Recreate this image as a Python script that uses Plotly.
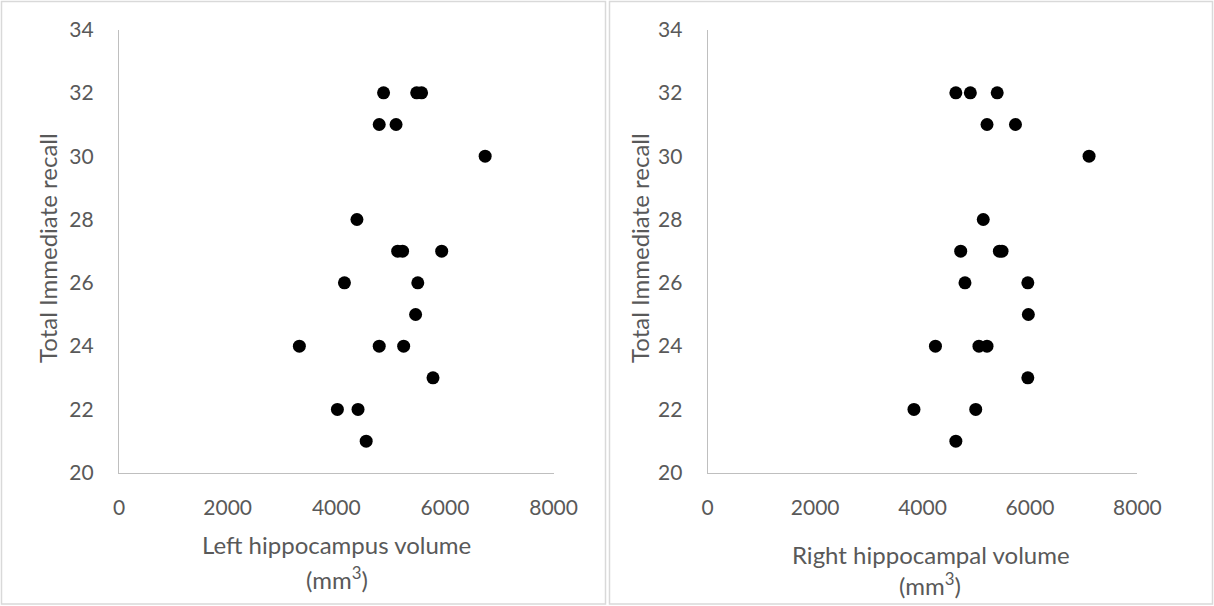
import plotly.graph_objects as go

# ---- data ----
recall = [32, 32, 32, 31, 31, 30, 28, 27, 27, 27, 26, 26, 25, 24, 24, 24, 23, 22, 22, 21]
left_volume = [4870, 5480, 5570, 4790, 5100, 6740, 4380, 5130, 5220, 5940,
               4150, 5500, 5460, 3320, 4790, 5240, 5780, 4020, 4400, 4550]
right_volume = [4620, 4890, 5390, 5200, 5730, 7100, 5130, 4710, 5430, 5480,
                4790, 5960, 5970, 4240, 5050, 5200, 5960, 3840, 4990, 4620]
x_ticks = [0, 2000, 4000, 6000, 8000]
y_ticks = [20, 22, 24, 26, 28, 30, 32, 34]
y_title = "Total Immediate recall"
left_title = "Left hippocampus volume"
right_title = "Right hippocampal volume"
unit_title = "(mm<sup>3</sup>)"

W, H = 1214, 606
FONT = "Lato"
GREY = "#595959"
AXIS = "#bfbfbf"
BORDER = "#d9d9d9"

fig = go.Figure()
fig.add_trace(go.Scatter(x=left_volume, y=recall, mode="markers", xaxis="x", yaxis="y",
                         marker=dict(color="black", size=13), showlegend=False,
                         cliponaxis=False))
fig.add_trace(go.Scatter(x=right_volume, y=recall, mode="markers", xaxis="x2", yaxis="y2",
                         marker=dict(color="black", size=13), showlegend=False,
                         cliponaxis=False))

ydom = [(H - 472.8) / H, (H - 29.5) / H]
xd1 = [119 / W, 553.6 / W]
xd2 = [707.7 / W, 1137.4 / W]

def xaxis(dom, anchor):
    return dict(domain=dom, anchor=anchor, range=[0, 8000], tickvals=x_ticks,
                showgrid=False, zeroline=False, showline=True, linecolor=AXIS, linewidth=1.3,
                ticks="", ticklabelstandoff=16, automargin=False,
                tickfont=dict(family=FONT, size=21, color=GREY), fixedrange=True)

def yaxis(anchor):
    return dict(domain=ydom, anchor=anchor, range=[20, 34], tickvals=y_ticks,
                showgrid=False, zeroline=False, showline=True, linecolor=AXIS, linewidth=1.3,
                ticks="", ticklabelstandoff=20, automargin=False,
                tickfont=dict(family=FONT, size=21, color=GREY), fixedrange=True)

fig.update_layout(
    template="none",
    width=W, height=H, autosize=False,
    margin=dict(l=0, r=0, t=0, b=0, pad=0, autoexpand=False),
    paper_bgcolor="white", plot_bgcolor="white", showlegend=False,
    xaxis=xaxis(xd1, "y"), yaxis=yaxis("x"),
    xaxis2=xaxis(xd2, "y2"), yaxis2=yaxis("x2"),
)

def px(x):
    return x / W

def py(y):
    return (H - y) / H

ann = []
ann.append(dict(text=y_title, x=px(48), y=py(248), textangle=-90))
ann.append(dict(text=y_title, x=px(640), y=py(248), textangle=-90))
ann.append(dict(text=left_title, x=px(336.5), y=py(544)))
ann.append(dict(text=unit_title, x=px(336.5), y=py(578)))
ann.append(dict(text=right_title, x=px(931), y=py(554)))
ann.append(dict(text=unit_title, x=px(930), y=py(584)))
for a in ann:
    a.update(xref="paper", yref="paper", showarrow=False, xanchor="center", yanchor="middle",
             font=dict(family=FONT, size=24, color=GREY))
fig.update_layout(annotations=ann)

shapes = []
for x0, x1 in [(1.5, 605.5), (609.5, 1212.5)]:
    shapes.append(dict(type="rect", xref="paper", yref="paper",
                       x0=px(x0), x1=px(x1), y0=py(604), y1=py(1.5),
                       line=dict(color=BORDER, width=1.5), fillcolor="rgba(0,0,0,0)"))
fig.update_layout(shapes=shapes)

fig.write_html("out.html")
